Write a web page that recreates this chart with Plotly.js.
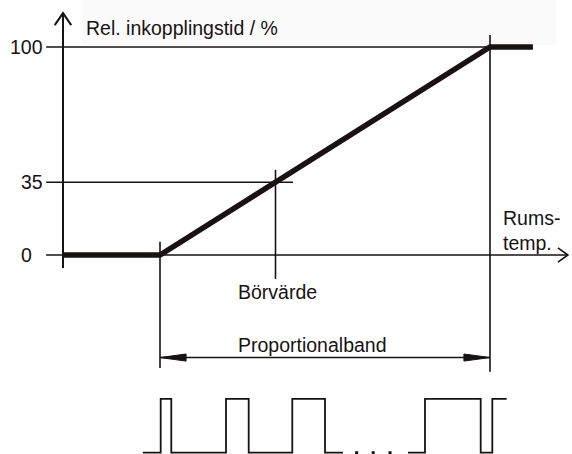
<!DOCTYPE html>
<html>
<head>
<meta charset="utf-8">
<script src="https://cdn.plot.ly/plotly-3.0.1.min.js"></script>
<style>
  html, body { margin: 0; padding: 0; background: #ffffff; }
  #chart { width: 572px; height: 454px; }
</style>
</head>
<body>
<div id="chart"></div>
<script>
// ---- data ----
// room temperature, expressed in % of the proportional band (0 = band start, 100 = band end)
const tempPoints = [-29.4, 0, 100, 113];
// relative switch-on time in %
const relOnTime = [0, 0, 100, 100];
// set-point (Börvärde) position and its on-time
const setpointTemp = 35;
const setpointOnTime = 35;
// y tick values and labels
const yTickValues = [100, 35, 0];
const yTickLabels = ["100", "35", "0"];
// proportional band limits
const bandStart = 0;
const bandEnd = 100;
// pulse train (on/off switching) : edges along the temperature axis and level (0 = off, 1 = on)
const pulseX1 = [-5.2, 0.21, 0.21, 3.42, 3.42, 20.0, 20.0, 26.88, 26.88, 40.09, 40.09, 50.0, 50.0, 55.45];
const pulseL1 = [0, 0, 1, 1, 0, 0, 1, 1, 0, 0, 1, 1, 0, 0];
const pulseDotsX = [59.6, 64.6, 69.7];
const pulseX2 = [75.15, 80.3, 80.3, 97.18, 97.18, 100.7, 100.7, 105.06];
const pulseL2 = [0, 0, 1, 1, 0, 0, 1, 1];
// texts
const yTitle = "Rel. inkopplingstid / %";
const xTitle = "Rums-<br>temp.";
const setpointLabel = "Börvärde";
const bandLabel = "Proportionalband";

// ---- layout constants ----
const INK = "#181212";
const FONT = "'Liberation Sans', Arial, sans-serif";
const FS = 19.5;
const Y_AXIS_X = -29.4;         // vertical axis position
const X_AXIS_LEFT = -34.5;
const X_AXIS_RIGHT = 123.6;
const Y_AXIS_BOTTOM = -6.3;
const Y_AXIS_TOP = 116.3;
const PULSE_OFF = -95.05;
const PULSE_ON = -69.2;
const BAND_ARROW_Y = -49.3;

const lvl = v => v.map(l => l ? PULSE_ON : PULSE_OFF);

const traces = [
  { // characteristic
    x: tempPoints, y: relOnTime, mode: "lines", type: "scatter",
    line: { color: INK, width: 5.5 }, hoverinfo: "skip", cliponaxis: false
  },
  { // pulse train part 1
    x: pulseX1, y: lvl(pulseL1), mode: "lines", type: "scatter",
    line: { color: INK, width: 1.8, shape: "linear" }, hoverinfo: "skip"
  },
  { // dots
    x: pulseDotsX, y: pulseDotsX.map(() => PULSE_OFF), mode: "markers", type: "scatter",
    marker: { color: INK, size: 3, symbol: "square" }, hoverinfo: "skip", cliponaxis: false
  },
  { // pulse train part 2
    x: pulseX2, y: lvl(pulseL2), mode: "lines", type: "scatter",
    line: { color: INK, width: 1.8 }, hoverinfo: "skip"
  }
];

const thin = { color: INK, width: 1.6 };
const shapes = [
  // faint scan background box
  { type: "rect", xref: "x", yref: "y", x0: -23.6, x1: 120, y0: 100.8, y1: 122.6,
    fillcolor: "#fafafa", line: { width: 0 }, layer: "below" },
  // y axis
  { type: "line", x0: Y_AXIS_X, x1: Y_AXIS_X, y0: Y_AXIS_BOTTOM, y1: Y_AXIS_TOP, line: { color: INK, width: 2 } },
  // y axis arrowhead (open)
  { type: "path", path: `M ${Y_AXIS_X - 2.5} ${Y_AXIS_TOP - 5.8} L ${Y_AXIS_X} ${Y_AXIS_TOP} L ${Y_AXIS_X + 2.5} ${Y_AXIS_TOP - 5.8}`,
    line: { color: INK, width: 2 } },
  // x axis
  { type: "line", x0: X_AXIS_LEFT, x1: X_AXIS_RIGHT, y0: 0, y1: 0, line: thin },
  { type: "path", path: `M ${X_AXIS_RIGHT - 3.0} 3.4 L ${X_AXIS_RIGHT} 0 L ${X_AXIS_RIGHT - 3.0} -3.4`,
    line: { color: INK, width: 1.6 } },
  // 100 line
  { type: "line", x0: X_AXIS_LEFT, x1: bandEnd, y0: 100, y1: 100, line: thin },
  // 35 line
  { type: "line", x0: X_AXIS_LEFT, x1: 40.3, y0: setpointOnTime, y1: setpointOnTime, line: thin },
  // set point vertical
  { type: "line", x0: setpointTemp, x1: setpointTemp, y0: 40.9, y1: -11.5, line: thin },
  // band start / end verticals
  { type: "line", x0: bandStart, x1: bandStart, y0: 6.4, y1: -54.3, line: thin },
  { type: "line", x0: bandEnd, x1: bandEnd, y0: 105.8, y1: -56.1, line: thin },
  // proportional band arrow line
  { type: "line", x0: bandStart, x1: bandEnd, y0: BAND_ARROW_Y, y1: BAND_ARROW_Y, line: { color: INK, width: 1.4 } },
  // filled arrowheads
  { type: "path", path: `M ${bandStart} ${BAND_ARROW_Y} L ${bandStart + 7.9} ${BAND_ARROW_Y + 1.7} L ${bandStart + 7.9} ${BAND_ARROW_Y - 1.7} Z`,
    fillcolor: INK, line: { color: INK, width: 1 } },
  { type: "path", path: `M ${bandEnd} ${BAND_ARROW_Y} L ${bandEnd - 7.9} ${BAND_ARROW_Y + 1.7} L ${bandEnd - 7.9} ${BAND_ARROW_Y - 1.7} Z`,
    fillcolor: INK, line: { color: INK, width: 1 } }
];

const font = { family: FONT, size: FS, color: INK };
const annotations = [
  { x: -23.0, y: 109.2, xanchor: "left", yanchor: "middle", text: yTitle, showarrow: false, font },
  { x: 103.3, y: 12.0, xanchor: "left", yanchor: "middle", align: "left", text: xTitle, showarrow: false, font },
  { x: setpointTemp + 0.5, y: -17.8, xanchor: "center", yanchor: "middle", text: setpointLabel, showarrow: false, font },
  { x: 46.3, y: -43.3, xanchor: "center", yanchor: "middle", text: bandLabel, showarrow: false, font }
];
const tickLeft = [-46.0, -42.6, -42.6];
yTickValues.forEach((v, i) => {
  annotations.push({ x: tickLeft[i], y: v, xanchor: "left", yanchor: "middle", text: yTickLabels[i], showarrow: false, font });
});

const layout = {
  width: 572, height: 454,
  margin: { l: 0, r: 0, t: 0, b: 0, pad: 0 },
  paper_bgcolor: "#ffffff", plot_bgcolor: "#ffffff",
  showlegend: false,
  xaxis: { range: [-48.485, 124.85], visible: false, fixedrange: true },
  yaxis: { range: [-95.67, 122.6], visible: false, fixedrange: true },
  shapes, annotations
};

Plotly.newPlot("chart", traces, layout, { displayModeBar: false, staticPlot: true });
</script>
</body>
</html>
